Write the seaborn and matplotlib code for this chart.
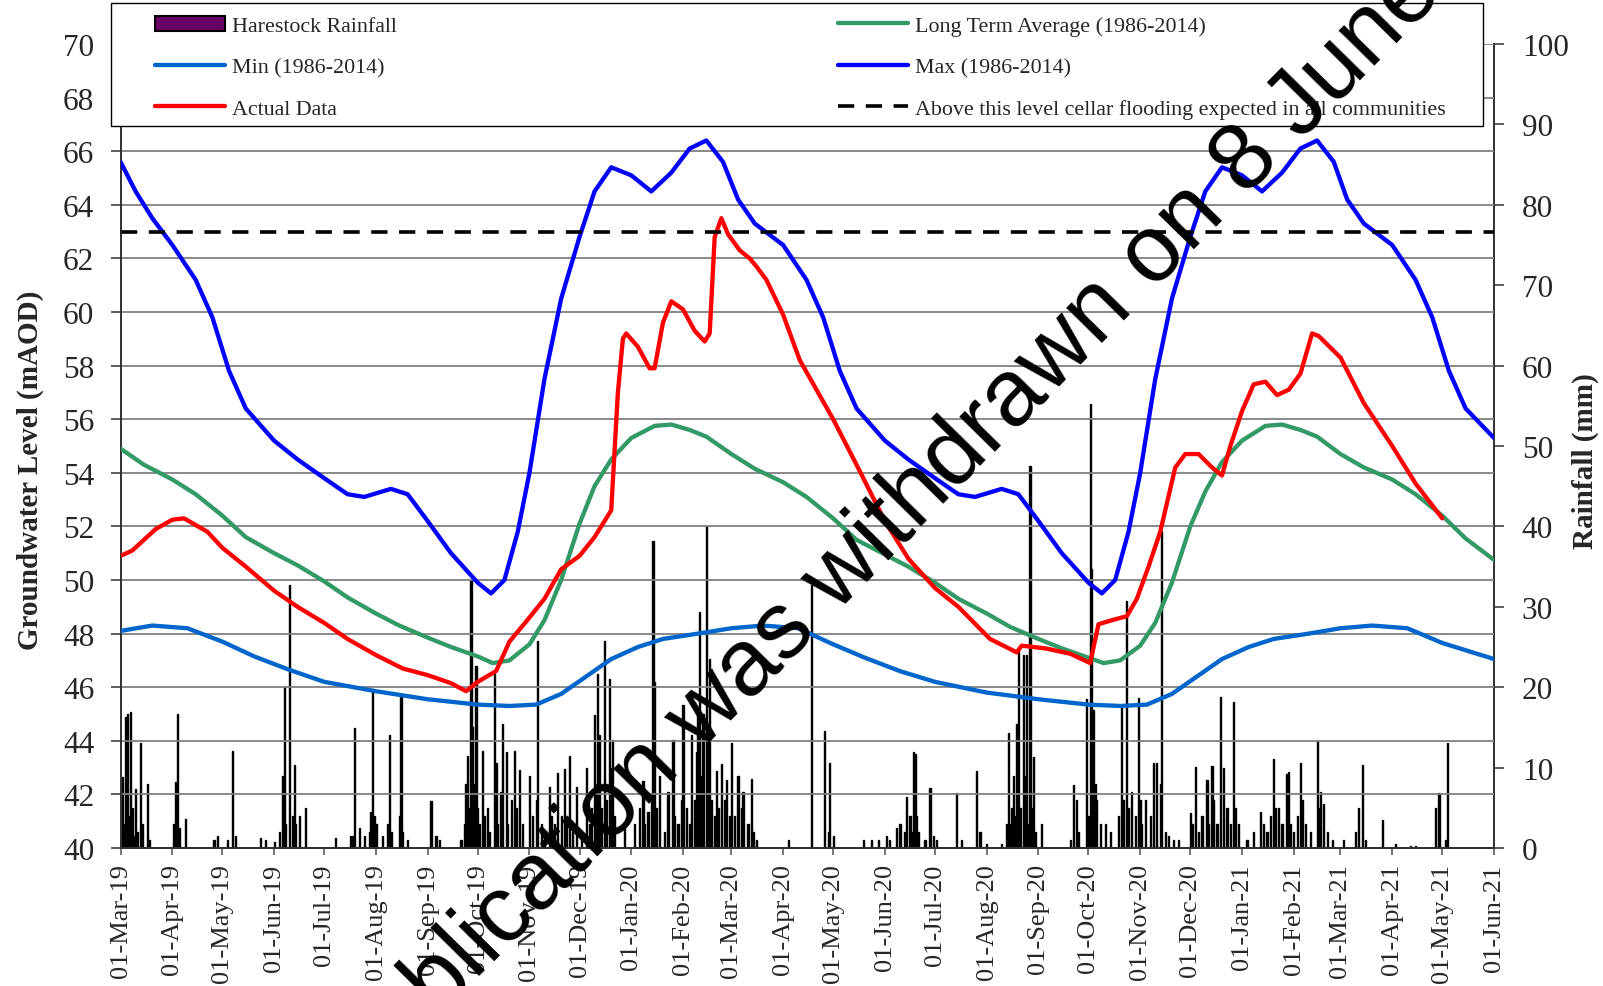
"""
Harestock groundwater level vs long-term statistics, with daily rainfall.
Saves out.png (1603x987).
"""

import pandas as pd
import matplotlib.pyplot as plt
import matplotlib.dates as mdates
import seaborn as sns
from matplotlib.lines import Line2D
from matplotlib.patches import Patch, Rectangle


# ---- data ------------------------------------------------------------------

max_dates = [
    "2019-03-01", "2019-03-10", "2019-03-20", "2019-04-01", "2019-04-15", "2019-04-25",
    "2019-05-05", "2019-05-15", "2019-06-01", "2019-06-15", "2019-07-01", "2019-07-15",
    "2019-07-25", "2019-08-10", "2019-08-20", "2019-09-01", "2019-09-15", "2019-10-01",
    "2019-10-09", "2019-10-17", "2019-10-25", "2019-11-01", "2019-11-10", "2019-11-20",
    "2019-12-01", "2019-12-10", "2019-12-20", "2020-01-01", "2020-01-13", "2020-01-25",
    "2020-02-05", "2020-02-15", "2020-02-25", "2020-03-05", "2020-03-15", "2020-04-01",
    "2020-04-15", "2020-04-25", "2020-05-05", "2020-05-15", "2020-06-01", "2020-06-15",
    "2020-07-01", "2020-07-15", "2020-07-25", "2020-08-10", "2020-08-20", "2020-09-01",
    "2020-09-15", "2020-10-01", "2020-10-09", "2020-10-17", "2020-10-25", "2020-11-01",
    "2020-11-10", "2020-11-20", "2020-12-01", "2020-12-10", "2020-12-20", "2021-01-01",
    "2021-01-13", "2021-01-25", "2021-02-05", "2021-02-15", "2021-02-25", "2021-03-05",
    "2021-03-15", "2021-04-01", "2021-04-15", "2021-04-25", "2021-05-05", "2021-05-15",
    "2021-06-01",
]
max_level = [
    65.6, 64.5, 63.5, 62.5, 61.2, 59.8,
    57.8, 56.4, 55.2, 54.5, 53.8, 53.2,
    53.1, 53.4, 53.2, 52.2, 51.0, 49.9,
    49.5, 50.0, 51.8, 54.0, 57.5, 60.5,
    62.8, 64.5, 65.4, 65.1, 64.5, 65.2,
    66.1, 66.4, 65.6, 64.2, 63.3, 62.5,
    61.2, 59.8, 57.8, 56.4, 55.2, 54.5,
    53.8, 53.2, 53.1, 53.4, 53.2, 52.2,
    51.0, 49.9, 49.5, 50.0, 51.8, 54.0,
    57.5, 60.5, 62.8, 64.5, 65.4, 65.1,
    64.5, 65.2, 66.1, 66.4, 65.6, 64.2,
    63.3, 62.5, 61.2, 59.8, 57.8, 56.4,
    55.3,
]

min_dates = [
    "2019-03-01", "2019-03-20", "2019-04-10", "2019-05-01", "2019-05-20", "2019-06-10",
    "2019-07-01", "2019-08-01", "2019-09-01", "2019-10-01", "2019-10-20", "2019-11-05",
    "2019-11-20", "2019-12-05", "2019-12-20", "2020-01-05", "2020-01-20", "2020-02-10",
    "2020-03-01", "2020-03-20", "2020-04-10", "2020-05-01", "2020-05-20", "2020-06-10",
    "2020-07-01", "2020-08-01", "2020-09-01", "2020-10-01", "2020-10-20", "2020-11-05",
    "2020-11-20", "2020-12-05", "2020-12-20", "2021-01-05", "2021-01-20", "2021-02-10",
    "2021-03-01", "2021-03-20", "2021-04-10", "2021-05-01", "2021-06-01",
]
min_level = [
    48.1, 48.3, 48.2, 47.7, 47.15, 46.65,
    46.2, 45.85, 45.55, 45.35, 45.3, 45.35,
    45.75, 46.4, 47.05, 47.5, 47.8, 48.0,
    48.2, 48.3, 48.2, 47.6, 47.1, 46.6,
    46.2, 45.8, 45.55, 45.35, 45.3, 45.35,
    45.75, 46.4, 47.05, 47.5, 47.8, 48.0,
    48.2, 48.3, 48.2, 47.65, 47.05,
]

lta_dates = [
    "2019-03-01", "2019-03-15", "2019-04-01", "2019-04-15", "2019-05-01", "2019-05-15",
    "2019-06-01", "2019-06-15", "2019-07-01", "2019-07-15", "2019-08-01", "2019-08-15",
    "2019-09-01", "2019-09-15", "2019-10-01", "2019-10-10", "2019-10-20", "2019-11-01",
    "2019-11-10", "2019-11-20", "2019-12-01", "2019-12-10", "2019-12-20", "2020-01-01",
    "2020-01-15", "2020-01-25", "2020-02-05", "2020-02-15", "2020-03-01", "2020-03-15",
    "2020-04-01", "2020-04-15", "2020-05-01", "2020-05-15", "2020-06-01", "2020-06-15",
    "2020-07-01", "2020-07-15", "2020-08-01", "2020-08-15", "2020-09-01", "2020-09-15",
    "2020-10-01", "2020-10-10", "2020-10-20", "2020-11-01", "2020-11-10", "2020-11-20",
    "2020-12-01", "2020-12-10", "2020-12-20", "2021-01-01", "2021-01-15", "2021-01-25",
    "2021-02-05", "2021-02-15", "2021-03-01", "2021-03-15", "2021-04-01", "2021-04-15",
    "2021-05-01", "2021-05-15", "2021-06-01",
]
lta_level = [
    54.9, 54.3, 53.75, 53.2, 52.4, 51.6,
    51.0, 50.55, 49.95, 49.35, 48.75, 48.3,
    47.85, 47.5, 47.15, 46.9, 47.0, 47.6,
    48.5, 50.0, 52.1, 53.5, 54.5, 55.3,
    55.75, 55.8, 55.6, 55.35, 54.7, 54.15,
    53.65, 53.1, 52.3, 51.5, 50.95, 50.5,
    49.9, 49.3, 48.75, 48.25, 47.8, 47.45,
    47.1, 46.9, 47.0, 47.55, 48.4, 49.9,
    52.0, 53.3, 54.4, 55.2, 55.75, 55.8,
    55.6, 55.35, 54.7, 54.2, 53.75, 53.2,
    52.4, 51.55, 50.75,
]

actual_dates = [
    "2019-03-01", "2019-03-08", "2019-03-15", "2019-03-22", "2019-04-01", "2019-04-08",
    "2019-04-15", "2019-04-22", "2019-05-01", "2019-05-15", "2019-06-01", "2019-06-15",
    "2019-07-01", "2019-07-15", "2019-08-01", "2019-08-17", "2019-09-01", "2019-09-15",
    "2019-09-24", "2019-10-01", "2019-10-12", "2019-10-20", "2019-11-01", "2019-11-10",
    "2019-11-20", "2019-12-01", "2019-12-10", "2019-12-17", "2019-12-20", "2019-12-24",
    "2019-12-27", "2019-12-29", "2020-01-05", "2020-01-12", "2020-01-15", "2020-01-20",
    "2020-01-25", "2020-02-01", "2020-02-08", "2020-02-14", "2020-02-17", "2020-02-20",
    "2020-02-24", "2020-02-28", "2020-03-06", "2020-03-12", "2020-03-16", "2020-03-22",
    "2020-04-01", "2020-04-11", "2020-05-01", "2020-05-15", "2020-06-01", "2020-06-15",
    "2020-07-01", "2020-07-15", "2020-08-03", "2020-08-19", "2020-08-22", "2020-09-05",
    "2020-09-20", "2020-10-02", "2020-10-07", "2020-10-15", "2020-10-24", "2020-10-30",
    "2020-11-06", "2020-11-13", "2020-11-22", "2020-11-28", "2020-12-06", "2020-12-14",
    "2020-12-20", "2020-12-25", "2021-01-01", "2021-01-08", "2021-01-15", "2021-01-22",
    "2021-01-29", "2021-02-05", "2021-02-12", "2021-02-16", "2021-03-01", "2021-03-15",
    "2021-04-01", "2021-04-15", "2021-05-01",
]
actual_level = [
    50.9, 51.1, 51.5, 51.9, 52.25, 52.3,
    52.05, 51.8, 51.2, 50.5, 49.6, 49.0,
    48.4, 47.8, 47.2, 46.7, 46.45, 46.15,
    45.85, 46.2, 46.6, 47.7, 48.6, 49.3,
    50.4, 50.9, 51.6, 52.3, 52.6, 57.0,
    59.0, 59.2, 58.7, 57.9, 57.9, 59.6,
    60.4, 60.1, 59.3, 58.9, 59.2, 62.8,
    63.5, 62.9, 62.3, 62.0, 61.7, 61.2,
    59.9, 58.2, 56.0, 54.3, 52.2, 50.8,
    49.7, 49.0, 47.8, 47.3, 47.55, 47.45,
    47.25, 46.9, 48.35, 48.5, 48.65, 49.3,
    50.5, 51.8, 54.2, 54.7, 54.7, 54.2,
    53.9, 55.0, 56.3, 57.3, 57.4, 56.9,
    57.1, 57.7, 59.2, 59.1, 58.3, 56.6,
    55.0, 53.6, 52.3,
]

rain_dates = [
    "2019-03-01", "2019-03-02", "2019-03-03", "2019-03-04", "2019-03-05", "2019-03-06",
    "2019-03-07", "2019-03-08", "2019-03-09", "2019-03-10", "2019-03-11", "2019-03-13",
    "2019-03-14", "2019-03-17", "2019-03-18", "2019-04-02", "2019-04-03", "2019-04-04",
    "2019-04-05", "2019-04-09", "2019-04-26", "2019-04-28", "2019-05-04", "2019-05-07",
    "2019-05-09", "2019-05-24", "2019-05-27", "2019-06-01", "2019-06-04", "2019-06-06",
    "2019-06-07", "2019-06-08", "2019-06-10", "2019-06-12", "2019-06-13", "2019-06-14",
    "2019-06-16", "2019-06-20", "2019-07-08", "2019-07-17", "2019-07-18", "2019-07-19",
    "2019-07-22", "2019-07-25", "2019-07-28", "2019-07-29", "2019-07-30", "2019-07-31",
    "2019-08-01", "2019-08-05", "2019-08-08", "2019-08-09", "2019-08-10", "2019-08-15",
    "2019-08-16", "2019-08-17", "2019-08-20", "2019-09-03", "2019-09-06", "2019-09-08",
    "2019-09-21", "2019-09-23", "2019-09-24", "2019-09-25", "2019-09-26", "2019-09-27",
    "2019-09-28", "2019-09-29", "2019-09-30", "2019-10-01", "2019-10-02", "2019-10-04",
    "2019-10-05", "2019-10-07", "2019-10-08", "2019-10-11", "2019-10-12", "2019-10-13",
    "2019-10-15", "2019-10-16", "2019-10-18", "2019-10-19", "2019-10-21", "2019-10-23",
    "2019-10-24", "2019-10-26", "2019-10-28", "2019-11-01", "2019-11-03", "2019-11-05",
    "2019-11-06", "2019-11-08", "2019-11-10", "2019-11-13", "2019-11-14", "2019-11-16",
    "2019-11-18", "2019-11-20", "2019-11-22", "2019-11-23", "2019-11-25", "2019-11-27",
    "2019-11-29", "2019-12-02", "2019-12-05", "2019-12-07", "2019-12-08", "2019-12-10",
    "2019-12-11", "2019-12-12", "2019-12-13", "2019-12-14", "2019-12-16", "2019-12-17",
    "2019-12-19", "2019-12-20", "2019-12-21", "2019-12-22", "2019-12-28", "2020-01-03",
    "2020-01-06", "2020-01-08", "2020-01-09", "2020-01-11", "2020-01-13", "2020-01-14",
    "2020-01-15", "2020-01-16", "2020-01-18", "2020-01-21", "2020-01-23", "2020-01-26",
    "2020-01-27", "2020-01-29", "2020-01-31", "2020-02-01", "2020-02-03", "2020-02-05",
    "2020-02-06", "2020-02-08", "2020-02-09", "2020-02-10", "2020-02-11", "2020-02-12",
    "2020-02-13", "2020-02-15", "2020-02-16", "2020-02-17", "2020-02-18", "2020-02-20",
    "2020-02-21", "2020-02-22", "2020-02-24", "2020-02-26", "2020-02-27", "2020-02-29",
    "2020-03-01", "2020-03-03", "2020-03-05", "2020-03-07", "2020-03-08", "2020-03-11",
    "2020-03-13", "2020-03-14", "2020-03-16", "2020-04-04", "2020-04-18", "2020-04-26",
    "2020-04-28", "2020-04-29", "2020-05-01", "2020-05-19", "2020-05-24", "2020-05-28",
    "2020-06-02", "2020-06-04", "2020-06-08", "2020-06-10", "2020-06-13", "2020-06-14",
    "2020-06-16", "2020-06-17", "2020-06-18", "2020-06-19", "2020-06-20", "2020-06-21",
    "2020-06-25", "2020-06-28", "2020-06-30", "2020-07-02", "2020-07-14", "2020-07-17",
    "2020-07-26", "2020-07-28", "2020-08-01", "2020-08-10", "2020-08-13", "2020-08-14",
    "2020-08-15", "2020-08-16", "2020-08-17", "2020-08-18", "2020-08-19", "2020-08-20",
    "2020-08-21", "2020-08-23", "2020-08-24", "2020-08-25", "2020-08-26", "2020-08-27",
    "2020-08-28", "2020-08-29", "2020-08-30", "2020-09-03", "2020-09-20", "2020-09-22",
    "2020-09-24", "2020-09-25", "2020-09-30", "2020-10-01", "2020-10-02", "2020-10-03",
    "2020-10-04", "2020-10-05", "2020-10-06", "2020-10-08", "2020-10-11", "2020-10-14",
    "2020-10-19", "2020-10-21", "2020-10-22", "2020-10-24", "2020-10-25", "2020-10-27",
    "2020-10-29", "2020-10-31", "2020-11-01", "2020-11-02", "2020-11-04", "2020-11-07",
    "2020-11-09", "2020-11-11", "2020-11-13", "2020-11-14", "2020-11-16", "2020-11-18",
    "2020-11-21", "2020-11-24", "2020-12-01", "2020-12-02", "2020-12-04", "2020-12-06",
    "2020-12-08", "2020-12-11", "2020-12-12", "2020-12-14", "2020-12-15", "2020-12-17",
    "2020-12-19", "2020-12-21", "2020-12-23", "2020-12-25", "2020-12-27", "2020-12-28",
    "2020-12-30", "2021-01-04", "2021-01-08", "2021-01-12", "2021-01-14", "2021-01-16",
    "2021-01-18", "2021-01-20", "2021-01-21", "2021-01-23", "2021-01-25", "2021-01-28",
    "2021-01-29", "2021-01-30", "2021-02-01", "2021-02-03", "2021-02-05", "2021-02-06",
    "2021-02-08", "2021-02-11", "2021-02-15", "2021-02-16", "2021-02-17", "2021-02-19",
    "2021-02-21", "2021-02-24", "2021-03-03", "2021-03-10", "2021-03-12", "2021-03-14",
    "2021-03-16", "2021-03-26", "2021-04-03", "2021-04-12", "2021-04-15", "2021-04-27",
    "2021-04-29", "2021-05-03", "2021-05-04",
]
rain_mm = [
    2.5, 8.8, 3.0, 16.3, 16.7, 4.0,
    16.9, 5.0, 1.5, 7.3, 2.0, 13.1,
    3.0, 7.9, 1.0, 3.0, 8.2, 16.7,
    2.5, 3.6, 1.0, 1.5, 1.0, 12.1,
    1.5, 1.2, 1.0, 0.8, 2.0, 9.0,
    20.0, 3.0, 32.7, 4.0, 10.3, 3.0,
    4.0, 5.0, 1.2, 1.5, 1.5, 14.9,
    2.5, 1.5, 2.0, 4.5, 19.8, 4.0,
    3.0, 1.5, 3.0, 14.1, 2.0, 4.0,
    18.8, 2.0, 1.0, 5.8, 1.5, 1.0,
    1.0, 3.0, 8.0, 11.5, 5.0, 33.3,
    15.0, 8.0, 22.6, 5.0, 3.0, 12.1,
    4.0, 5.0, 2.0, 21.7, 10.6, 3.0,
    7.0, 15.4, 12.0, 3.0, 6.0, 12.1,
    5.0, 9.7, 3.0, 9.0, 4.0, 6.0,
    25.7, 3.0, 2.0, 7.6, 4.0, 3.0,
    9.3, 4.0, 9.8, 3.0, 11.4, 2.0,
    7.6, 2.0, 10.0, 3.0, 5.0, 16.5,
    8.0, 21.6, 14.0, 5.0, 25.7, 6.0,
    21.0, 10.0, 13.4, 4.0, 2.5, 3.0,
    5.0, 8.3, 3.0, 4.5, 6.0, 38.2,
    20.6, 5.0, 9.0, 2.0, 7.0, 13.4,
    4.0, 3.0, 6.0, 17.8, 5.0, 3.0,
    14.0, 6.0, 12.0, 16.7, 29.3, 9.0,
    16.7, 40.0, 15.0, 23.5, 6.0, 4.0,
    9.6, 5.0, 10.5, 6.0, 8.5, 4.0,
    13.0, 4.0, 9.0, 5.0, 7.0, 3.0,
    8.6, 2.0, 1.0, 1.0, 32.7, 14.6,
    2.0, 10.6, 1.5, 1.0, 1.0, 1.0,
    1.5, 1.0, 2.5, 3.0, 2.0, 6.4,
    4.0, 2.0, 12.0, 11.7, 4.0, 2.0,
    1.0, 7.5, 1.5, 1.0, 6.9, 1.0,
    9.6, 2.0, 0.5, 0.5, 3.0, 14.3,
    3.0, 5.0, 9.0, 4.0, 15.4, 24.5,
    5.0, 24.0, 9.0, 24.0, 3.0, 47.5,
    5.0, 11.3, 2.0, 3.0, 1.0, 7.8,
    6.0, 2.0, 18.5, 4.0, 55.2, 34.7,
    17.2, 8.0, 6.0, 3.0, 3.0, 2.0,
    4.0, 17.6, 6.0, 30.7, 5.0, 7.0,
    4.0, 18.7, 6.0, 3.0, 6.0, 4.0,
    10.6, 10.6, 8.0, 39.4, 2.0, 1.5,
    1.0, 1.0, 4.3, 3.0, 10.1, 2.0,
    4.0, 8.4, 3.0, 10.2, 6.0, 3.0,
    18.8, 10.0, 5.0, 3.0, 18.1, 5.0,
    3.0, 1.0, 2.0, 4.5, 3.0, 2.0,
    4.0, 11.1, 5.0, 5.0, 3.0, 9.2,
    9.5, 3.0, 2.0, 4.0, 10.6, 6.0,
    3.0, 2.0, 13.3, 5.0, 7.0, 5.5,
    2.0, 1.0, 1.0, 2.0, 5.0, 10.3,
    1.0, 3.5, 0.5, 0.3, 0.3, 5.0,
    6.9, 1.0, 13.0,
]

flood_level = 63.0
x_start, x_end = "2019-03-01", "2021-06-01"
watermark = "This publication was withdrawn on 8 June"

# ---- styling ---------------------------------------------------------------

C_MAX = "#0000FF"
C_MIN = "#0066CC"
C_LTA = "#339966"
C_ACT = "#FF0000"
C_RAIN = "#660066"

W, H = 1603, 987

sns.set_style("ticks")
plt.rcParams["font.family"] = ["Liberation Serif", "DejaVu Serif"]


def main() -> None:
    fig = plt.figure(figsize=(W / 100, H / 100), dpi=100)
    ax = fig.add_axes([120.6 / W, 1 - 849 / H, (1494 - 120.6) / W, (849 - 45) / H])
    ax2 = ax.twinx()

    # rainfall bars behind the level lines
    ax2.bar(pd.to_datetime(rain_dates), rain_mm, width=0.7,
            color="black", edgecolor="black", linewidth=1.0, zorder=2)
    ax.set_zorder(ax2.get_zorder() + 1)
    ax.patch.set_visible(False)

    series = [
        (max_dates, max_level, C_MAX),
        (min_dates, min_level, C_MIN),
        (lta_dates, lta_level, C_LTA),
        (actual_dates, actual_level, C_ACT),
    ]
    for dates, vals, col in series:
        sns.lineplot(x=pd.to_datetime(dates), y=vals, ax=ax, color=col,
                     lw=3.1, estimator=None, legend=False, zorder=4)

    ax.axhline(flood_level, color="black", lw=2.6, dashes=(4.5, 3.2), zorder=5)

    # axes
    ax.set_xlim(pd.Timestamp(x_start), pd.Timestamp(x_end))
    ax.set_ylim(40, 70)
    ax.set_yticks(range(40, 71, 2))
    ax2.set_ylim(0, 100)
    ax2.set_yticks(range(0, 101, 10))

    ax.xaxis.set_major_locator(mdates.MonthLocator())
    ax.xaxis.set_major_formatter(mdates.DateFormatter("%d-%b-%y"))

    ax.yaxis.grid(True, color="#808080", lw=1.3)
    ax.xaxis.grid(False)
    ax.tick_params(axis="y", direction="out", length=7, width=1.2, pad=12,
                   labelsize=22.5, color="#404040")
    ax.tick_params(axis="x", direction="out", length=5, width=1.2, pad=6,
                   labelsize=19, labelrotation=90, color="#606060")
    ax2.tick_params(axis="y", direction="out", length=7, width=1.2, pad=13,
                    labelsize=22.5, color="#404040")

    for a in (ax, ax2):
        a.spines["top"].set_visible(False)
        for side in ("left", "right", "bottom"):
            a.spines[side].set_color("#303030")
            a.spines[side].set_linewidth(1.4)
    ax.spines["right"].set_visible(False)
    ax2.spines["left"].set_visible(False)

    ax.set_xlabel("")
    ax.set_ylabel("Groundwater Level (mAOD)", fontsize=21, fontweight="bold")
    ax.yaxis.set_label_coords(-0.0558, 0.471)
    ax2.set_ylabel("Rainfall (mm)", fontsize=21, fontweight="bold")
    ax2.yaxis.set_label_coords(1.0568, 0.4826)

    # legend box (frame drawn separately so the inner padding can be wider)
    frame = Rectangle((111 / W, 1 - 127 / H), 1372 / W, 123 / H,
                      transform=fig.transFigure, facecolor="white",
                      edgecolor="black", lw=1.0, zorder=4)
    fig.add_artist(frame)

    handles = [
        Patch(facecolor=C_RAIN, edgecolor="black", lw=1.5, label="Harestock Rainfall"),
        Line2D([], [], color=C_MIN, lw=3.1, label="Min (1986-2014)"),
        Line2D([], [], color=C_ACT, lw=3.1, label="Actual Data"),
        Line2D([], [], color=C_LTA, lw=3.1, label="Long Term Average (1986-2014)"),
        Line2D([], [], color=C_MAX, lw=3.1, label="Max (1986-2014)"),
        Line2D([], [], color="black", lw=2.6, dashes=(4.5, 3.2),
               label="Above this level cellar flooding expected in all communities"),
    ]
    leg = fig.legend(handles=handles, ncol=2, mode="expand", loc="upper left",
                     bbox_to_anchor=(135 / W, 1 - 127 / H, (1465 - 135) / W, 130 / H),
                     frameon=False, fontsize=15.8, handlelength=3.2,
                     handletextpad=0.3, labelspacing=0.95, borderpad=0.4)
    leg.set_zorder(5)

    # diagonal "withdrawn" watermark
    fig.text(833 / W, 1 - 617 / H, watermark, rotation=45.5, rotation_mode="anchor",
             ha="center", va="baseline", fontsize=68,
             family=["Liberation Sans", "DejaVu Sans"], color="black", zorder=10)

    fig.savefig("out.png", dpi=100)
    plt.close(fig)


if __name__ == "__main__":
    main()
